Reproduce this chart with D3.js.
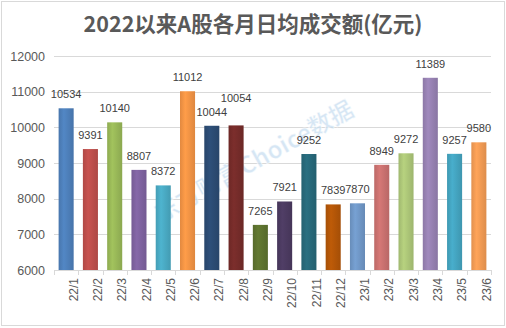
<!DOCTYPE html>
<html>
<head>
<meta charset="utf-8">
<script src="https://cdn.jsdelivr.net/npm/d3@7"></script>
<style>
  html, body { margin: 0; padding: 0; background: #fff; }
  svg { display: block; }
</style>
</head>
<body>
<svg id="chart" width="506" height="328"></svg>
<script>
// Monthly average daily turnover of A-shares since 2022 (unit: 亿元)
const months = ["22/1","22/2","22/3","22/4","22/5","22/6","22/7","22/8","22/9","22/10","22/11","22/12",
                "23/1","23/2","23/3","23/4","23/5","23/6"];
const turnover = [10534, 9391, 10140, 8807, 8372, 11012, 10044, 10054, 7265, 7921, 9252, 7839,
                  7870, 8949, 9272, 11389, 9257, 9580];
const barColors = ["#4f81bd","#c0504d","#9bbb59","#8064a2","#4bacc6","#f79646",
                   "#2c4d75","#772c2a","#5f7530","#4d3b62","#276a7c","#b65708",
                   "#729aca","#cd7371","#afc97a","#9983b5","#45a7c3","#f69d55"];
// extra lift (px) for value labels that would otherwise collide
const labelLift = [0, 0, 0, 0, 0, 0, 0, 13, 0, 0, 0, 0, 0, 0, 0, 0, 0, 0];
const yTicks = [6000, 7000, 8000, 9000, 10000, 11000, 12000];
const titleText = "2022以来A股各月日均成交额(亿元)";

const W = 506, H = 328;
const margin = { top: 56, right: 15, bottom: 58, left: 54 };
const svg = d3.select("#chart");

// frame
svg.append("rect")
  .attr("x", 1.5).attr("y", 1.5).attr("width", W - 3).attr("height", H - 4)
  .attr("fill", "#fff").attr("stroke", "#d9d9d9").attr("stroke-width", 1);

const x = d3.scaleBand().domain(months).range([margin.left, W - margin.right]).paddingInner(0.38).paddingOuter(0.19);
const y = d3.scaleLinear().domain([6000, 12000]).range([H - margin.bottom, margin.top]);

// gradients giving each bar a soft cylindrical shading
const defs = svg.append("defs");
barColors.forEach((c, i) => {
  const g = defs.append("linearGradient").attr("id", "bar" + i)
    .attr("x1", "0%").attr("x2", "100%").attr("y1", "0%").attr("y2", "0%");
  const base = d3.color(c);
  g.append("stop").attr("offset", "0%").attr("stop-color", base.darker(0.25));
  g.append("stop").attr("offset", "35%").attr("stop-color", base.brighter(0.12));
  g.append("stop").attr("offset", "100%").attr("stop-color", base.darker(0.3));
});

// gridlines
svg.append("g")
  .selectAll("line").data(yTicks.slice(1)).join("line")
  .attr("x1", margin.left).attr("x2", W - margin.right)
  .attr("y1", d => Math.round(y(d)) + 0.5).attr("y2", d => Math.round(y(d)) + 0.5)
  .attr("stroke", "#d9d9d9").attr("stroke-width", 1);

// y axis labels
const yAxis = d3.axisLeft(y).tickValues(yTicks).tickSize(0).tickPadding(9).tickFormat(d3.format("d"));
svg.append("g").attr("transform", `translate(${margin.left},0)`).call(yAxis)
  .call(g => g.select(".domain").remove())
  .call(g => g.selectAll("text")
    .attr("fill", "#595959").attr("font-size", "12.5px")
    .attr("font-family", "'Liberation Sans', Arial, sans-serif"));

// watermark
svg.append("text")
  .attr("transform", "translate(255,163) rotate(-29)")
  .attr("text-anchor", "middle").attr("dominant-baseline", "middle")
  .attr("font-family", "'Noto Sans CJK SC', sans-serif").attr("font-size", "24px").attr("font-weight", "bold")
  .attr("fill", "#c4dcf0").attr("fill-opacity", 0.7)
  .attr("stroke", "#ffffff").attr("stroke-opacity", 0.6).attr("stroke-width", 1)
  .text("东方财富Choice数据");

// bars
svg.append("g").selectAll("rect").data(turnover).join("rect")
  .attr("x", (d, i) => x(months[i]))
  .attr("width", x.bandwidth())
  .attr("y", d => y(d))
  .attr("height", d => y(6000) - y(d))
  .attr("fill", (d, i) => `url(#bar${i})`);

// value labels
svg.append("g").selectAll("text").data(turnover).join("text")
  .attr("x", (d, i) => x(months[i]) + x.bandwidth() / 2)
  .attr("y", (d, i) => y(d) - 10 - labelLift[i])
  .attr("text-anchor", "middle")
  .attr("font-family", "'Liberation Sans', Arial, sans-serif").attr("font-size", "11px")
  .attr("fill", "#404040")
  .text(d => d);

// x axis
const xAxis = d3.axisBottom(x).tickSize(0).tickPadding(0);
const xg = svg.append("g").attr("transform", `translate(0,${y(6000)})`).call(xAxis);
xg.select(".domain").remove();
xg.append("line")
  .attr("x1", margin.left).attr("x2", W - margin.right).attr("y1", 0.5).attr("y2", 0.5)
  .attr("stroke", "#d9d9d9");
// tick marks at the category boundaries
const bounds = d3.range(months.length + 1).map(i => margin.left + i * (W - margin.right - margin.left) / months.length);
xg.selectAll(".bound").data(bounds).join("line").attr("class", "bound")
  .attr("x1", d => Math.round(d) + 0.5).attr("x2", d => Math.round(d) + 0.5)
  .attr("y1", 0).attr("y2", 5).attr("stroke", "#d9d9d9");
xg.selectAll(".tick text")
  .attr("transform", "rotate(-90)")
  .attr("text-anchor", "end").attr("dominant-baseline", "middle")
  .attr("x", -8).attr("y", 0)
  .attr("fill", "#595959").attr("font-size", "12px")
  .attr("font-family", "'Liberation Sans', Arial, sans-serif");

// title
svg.append("text")
  .attr("x", 253).attr("y", 32)
  .attr("text-anchor", "middle")
  .attr("font-family", "'Noto Sans CJK SC', sans-serif").attr("font-weight", "bold").attr("font-size", "21.5px")
  .attr("fill", "#595959")
  .text(titleText);
</script>
</body>
</html>
